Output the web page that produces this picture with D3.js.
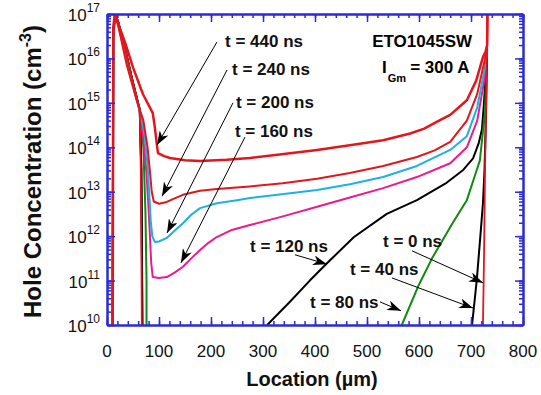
<!DOCTYPE html>
<html>
<head>
<meta charset="utf-8">
<script src="https://cdn.jsdelivr.net/npm/d3@7"></script>
<style>
  body { margin: 0; background: #fff; }
  text { font-family: Arial, "Liberation Sans", sans-serif; }
</style>
</head>
<body>
<div id="chart"></div>
<script>
// hole concentration profiles: [location (um), log10(p / cm^-3)], null = below 1e10
const t0 = [[11,10],[12,16.6],[16,17.0],[22,16.8],[35,16.2],[50,15.45],[63,14.84],[65,13.5],[66,12],[67,10],
  [67,null],[723,10],[725,11.5],[727,13.5],[729,15.0],[731,16.3],[732,17.5]]
const t40 = [[11,10],[12,16.6],[16,17.0],[22,16.8],[35,16.2],[50,15.45],[63,14.84],[66,13.5],[67,12],[68,10],
  [68,null],[702,10],[711,11.0],[718,12.0],[723,12.74],[726,13.49],[729,14.8],[731,16.2]]
const t80 = [[11,10],[12,16.6],[16,17.0],[22,16.78],[35,16.2],[50,15.45],[63,14.84],[70,14.0],[74,12.5],[76,11],[76,10],
  [76,null],[567,10],[598,10.86],[625,11.5],[665,12.3],[692,12.81],[711,13.49],[717,13.7],[727,14.8],[730,16.0]]
const t120 = [[11,10],[12,16.6],[16,17.0],[22,16.8],[35,16.2],[50,15.45],[63,14.84],[66,13.5],[67,12],[68,10],
  [68,null],[308,10],[350,10.5],[390,11.0],[423,11.39],[475,11.98],[538,12.5],[596,12.81],[653,13.2],[685,13.49],
  [704,13.75],[715,14.1],[721,14.4],[725,15.0],[729,15.8],[731,16.2]]
const t160 = [[11,10],[12,16.5],[16,17.0],[22,16.75],[35,16.15],[50,15.4],[63,14.8],[70,14.2],[76,13.4],[80,12.6],
  [83,11.9],[85,11.4],[88,11.08],[100,11.06],[115,11.08],[130,11.18],[146,11.31],[162,11.5],[179,11.69],[195,11.85],
  [211,11.98],[240,12.14],[275,12.25],[340,12.45],[404,12.66],[467,12.87],[531,13.08],[596,13.33],[660,13.64],
  [692,14.0],[712,14.6],[727,15.6],[731,16.2]]
const t200 = [[11,10],[12,16.5],[16,17.0],[22,16.75],[35,16.15],[50,15.4],[63,14.84],[72,14.3],[78,13.6],[82,12.8],
  [84,12.36],[87,12.0],[92,11.87],[100,11.88],[115,11.96],[130,12.12],[146,12.29],[162,12.48],[179,12.63],[211,12.74],
  [250,12.81],[275,12.86],[340,12.95],[404,13.04],[467,13.17],[531,13.33],[596,13.58],[660,13.94],[692,14.25],
  [712,14.9],[727,15.8],[731,16.2]]
const t240 = [[11,10],[12,16.5],[16,17.0],[25,16.55],[38,15.85],[57,15.06],[70,14.6],[78,14.0],[83,13.4],[86,13.0],
  [90,12.78],[100,12.73],[115,12.77],[130,12.85],[146,12.93],[179,13.02],[211,13.06],[275,13.12],[338,13.19],
  [404,13.29],[467,13.42],[531,13.58],[596,13.78],[630,13.93],[660,14.12],[692,14.6],[712,15.2],[727,16.0],
  [731,16.3],[732,17.5]]
const t440 = [[11,10],[12,16.7],[15,17.0],[21,16.8],[35,16.35],[50,15.8],[69,15.2],[88,14.77],[92,14.45],[96,14.05],
  [98,13.87],[110,13.8],[121,13.76],[150,13.71],[179,13.69],[230,13.72],[275,13.76],[340,13.85],[404,13.94],
  [470,14.05],[531,14.16],[583,14.31],[610,14.42],[634,14.57],[660,14.73],[692,15.06],[710,15.5],[723,16.03],
  [728,16.15],[731,16.3],[732,17.5]]

// drawing order, colours, widths
const series = [
  { name: "t = 120 ns", pts: t120, color: "#000000", w: 2 },
  { name: "t = 80 ns", pts: t80, color: "#108a10", w: 2 },
  { name: "t = 40 ns", pts: t40, color: "#000000", w: 2 },
  { name: "t = 160 ns", pts: t160, color: "#ee1a8c", w: 2 },
  { name: "t = 200 ns", pts: t200, color: "#1cb0e6", w: 2 },
  { name: "t = 240 ns", pts: t240, color: "#e3161c", w: 2 },
  { name: "t = 440 ns", pts: t440, color: "#e3161c", w: 2.5 },
  { name: "t = 0 ns", pts: t0, color: "#e3161c", w: 1.8 }
]

// tick labels
const xTickLabels = [0, 100, 200, 300, 400, 500, 600, 700, 800]
const yDecades = [10, 11, 12, 13, 14, 15, 16, 17]

// annotations: label, label anchor [um, log10], arrow start, arrow tip
const annLabels = ["t = 440 ns", "t = 240 ns", "t = 200 ns", "t = 160 ns", "t = 120 ns", "t = 0 ns", "t = 40 ns", "t = 80 ns"]
const annText = [[227,16.26],[240.4,15.63],[248,14.88],[246,14.23],[275,11.64],[530.8,11.76],[467.3,11.13],[390.4,10.38]]
const annFrom = [[211.5,16.37],[230.8,15.74],[242.3,15.0],[265.4,14.23],[361.5,11.58],[586.5,11.67],[548,11.06],[525,10.52]]
const annTo = [[96.2,14.05],[105.8,12.9],[115.4,12.07],[142.3,11.4],[423,11.37],[723,10.95],[704,10.38],[565.4,10.32]]

function draw() {
  const dimensions = {
    width: 541,
    height: 395,
    margin: { top: 14, bottom: 70, left: 107, right: 18 }
  }
  dimensions.ctrWidth = dimensions.width - dimensions.margin.left - dimensions.margin.right
  dimensions.ctrHeight = dimensions.height - dimensions.margin.top - dimensions.margin.bottom

  const svg = d3.select('#chart')
    .append('svg')
    .attr('width', dimensions.width)
    .attr('height', dimensions.height)

  const ctr = svg.append('g')
    .attr('transform', `translate(${dimensions.margin.left}, ${dimensions.margin.top})`)

  const xScale = d3.scaleLinear()
    .domain([0, 800])
    .range([0, dimensions.ctrWidth])

  const yScale = d3.scaleLog()
    .domain([1e10, 1e17])
    .range([dimensions.ctrHeight, 0])

  const py = v => yScale(Math.pow(10, v))

  svg.append('defs').append('clipPath')
    .attr('id', 'clip')
    .append('rect')
    .attr('width', dimensions.ctrWidth)
    .attr('height', dimensions.ctrHeight)

  const marker = svg.select('defs').append('marker')
    .attr('id', 'arrow')
    .attr('viewBox', '0 0 14 10')
    .attr('refX', 14)
    .attr('refY', 5)
    .attr('markerWidth', 14)
    .attr('markerHeight', 10)
    .attr('markerUnits', 'userSpaceOnUse')
    .attr('orient', 'auto')
  marker.append('path')
    .attr('d', 'M0,0 L14,5 L0,10 L4,5 Z')
    .attr('fill', '#000')

  // curves
  const line = d3.line()
    .defined(d => d[1] !== null)
    .x(d => xScale(d[0]))
    .y(d => py(d[1]))

  ctr.append('g')
    .attr('clip-path', 'url(#clip)')
    .selectAll('path')
    .data(series)
    .join('path')
    .attr('d', d => line(d.pts))
    .attr('fill', 'none')
    .attr('stroke', d => d.color)
    .attr('stroke-width', d => d.w)
    .attr('stroke-linejoin', 'round')

  // axes (blue frame, inward ticks)
  const blue = '#2a2ad8'
  const xMinor = d3.range(0, 801, 20)
  const yMinor = yScale.ticks()
  const yMajor = yDecades.map(e => Math.pow(10, e))

  const axes = [
    [d3.axisBottom(xScale).tickValues(xMinor).tickSize(-4), `translate(0,${dimensions.ctrHeight})`],
    [d3.axisBottom(xScale).tickValues(xTickLabels).tickSize(-8), `translate(0,${dimensions.ctrHeight})`],
    [d3.axisTop(xScale).tickValues(xMinor).tickSize(-4), null],
    [d3.axisTop(xScale).tickValues(xTickLabels).tickSize(-8), null],
    [d3.axisLeft(yScale).tickValues(yMinor).tickSize(-4), null],
    [d3.axisLeft(yScale).tickValues(yMajor).tickSize(-8), null],
    [d3.axisRight(yScale).tickValues(yMinor).tickSize(-4), `translate(${dimensions.ctrWidth},0)`],
    [d3.axisRight(yScale).tickValues(yMajor).tickSize(-8), `translate(${dimensions.ctrWidth},0)`]
  ]
  axes.forEach(([ax, tr]) => {
    const g = ctr.append('g')
      .call(ax.tickFormat('').tickSizeOuter(0))
      .attr('transform', tr)
    g.select('.domain').attr('stroke', blue).attr('stroke-width', 2)
    g.selectAll('.tick line').attr('stroke', blue).attr('stroke-width', 1.5)
  })

  // x tick labels
  ctr.append('g')
    .selectAll('text')
    .data(xTickLabels)
    .join('text')
    .attr('x', d => xScale(d))
    .attr('y', dimensions.ctrHeight + 32)
    .attr('text-anchor', 'middle')
    .attr('font-size', 17)
    .attr('fill', '#111')
    .text(d => d)

  // y tick labels with superscript exponents
  const yLab = ctr.append('g')
    .selectAll('text')
    .data(yDecades)
    .join('text')
    .attr('x', -7)
    .attr('y', d => py(d) + 7)
    .attr('text-anchor', 'end')
    .attr('font-size', 17)
    .attr('fill', '#111')
  yLab.append('tspan').text('10')
  yLab.append('tspan')
    .attr('font-size', 12)
    .attr('dy', -9)
    .text(d => d)

  // axis titles
  svg.append('text')
    .attr('x', dimensions.margin.left + dimensions.ctrWidth / 2 - 3)
    .attr('y', 386)
    .attr('text-anchor', 'middle')
    .attr('font-size', 20)
    .attr('font-weight', 'bold')
    .attr('fill', '#111')
    .text('Location (\u00b5m)')

  const yTitle = svg.append('text')
    .attr('transform', `translate(41, ${dimensions.margin.top + dimensions.ctrHeight / 2 + 2}) rotate(-90)`)
    .attr('text-anchor', 'middle')
    .attr('font-size', 24)
    .attr('font-weight', 'bold')
    .attr('fill', '#111')
  yTitle.append('tspan').text('Hole Concentration (cm')
  yTitle.append('tspan').attr('font-size', 16).attr('dy', -10).text('-3')
  yTitle.append('tspan').attr('dy', 10).text(')')

  // device / gate current labels
  ctr.append('text')
    .attr('x', xScale(606))
    .attr('y', py(16.26))
    .attr('text-anchor', 'middle')
    .attr('font-size', 17)
    .attr('font-weight', 'bold')
    .text('ETO1045SW')
  const ig = ctr.append('text')
    .attr('x', xScale(529))
    .attr('y', py(15.67))
    .attr('font-size', 17)
    .attr('font-weight', 'bold')
  ig.append('tspan').text('I')
  ig.append('tspan').attr('font-size', 11).attr('dy', 9).attr('dx', 1).text('Gm')
  ig.append('tspan').attr('dy', -9).attr('dx', 4).text('= 300 A')

  // time annotations with arrows
  const ann = ctr.append('g')
  ann.selectAll('line')
    .data(annLabels)
    .join('line')
    .attr('x1', (d, i) => xScale(annFrom[i][0]))
    .attr('y1', (d, i) => py(annFrom[i][1]))
    .attr('x2', (d, i) => xScale(annTo[i][0]))
    .attr('y2', (d, i) => py(annTo[i][1]))
    .attr('stroke', '#000')
    .attr('stroke-width', 1)
    .attr('marker-end', 'url(#arrow)')
  ann.selectAll('text')
    .data(annLabels)
    .join('text')
    .attr('x', (d, i) => xScale(annText[i][0]))
    .attr('y', (d, i) => py(annText[i][1]))
    .attr('font-size', 17)
    .attr('font-weight', 'bold')
    .attr('fill', '#111')
    .text(d => d)
}

draw()
</script>
</body>
</html>
